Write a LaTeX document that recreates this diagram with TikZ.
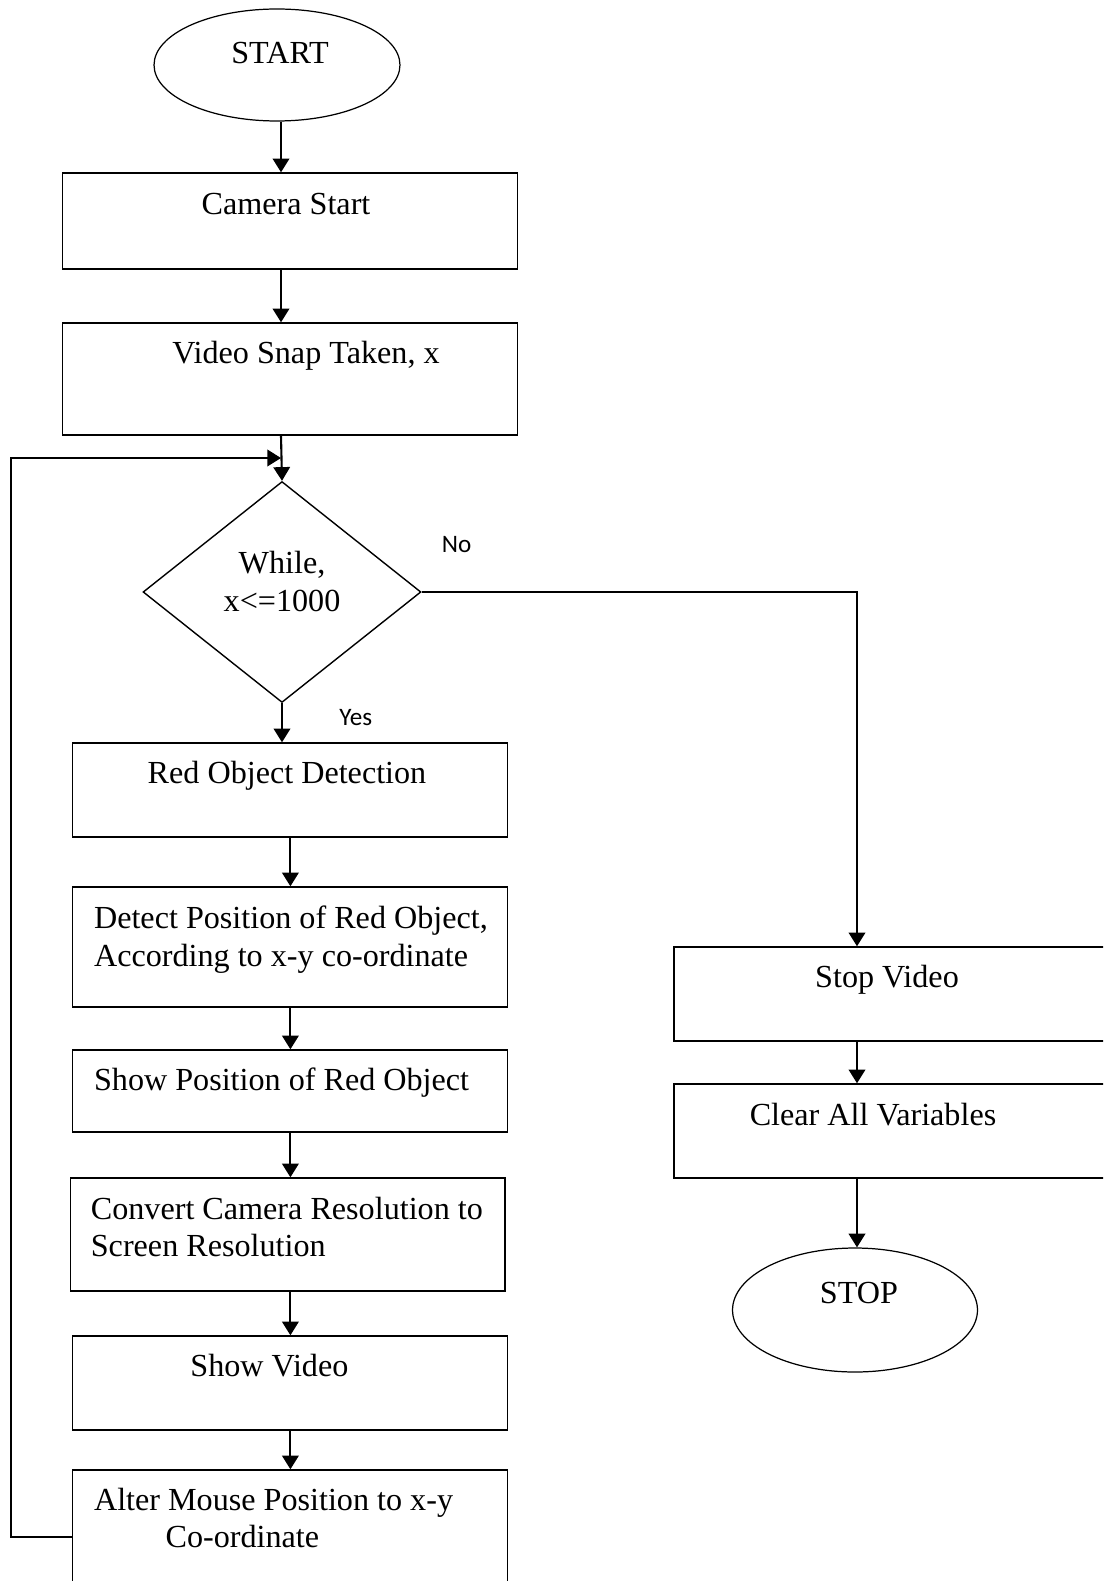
\documentclass[tikz,border=0pt]{standalone}
\usepackage{fontspec}
\setmainfont{Liberation Serif}
\newfontfamily\lblfont{Carlito}
\usetikzlibrary{shapes.geometric, arrows.meta, positioning, calc}

\begin{document}
\begin{tikzpicture}[x=0.02cm, y=-0.02cm,
  procbox/.style={draw, rectangle, line width=0.8pt, inner sep=0pt},
  termnode/.style={draw, ellipse, line width=0.7pt, inner sep=0pt},
  decnode/.style={draw, diamond, line width=0.8pt, inner sep=0pt},
  txt/.style={inner sep=0pt, font=\fontsize{18.3}{21.5}\selectfont},
  lbl/.style={inner sep=0pt, font=\lblfont\fontsize{14.3}{17}\selectfont},
  arr/.style={-{Triangle[length=7.8pt, width=9.4pt]}, line width=1.2pt}]
\useasboundingbox (0,0) rectangle (1103,1581);
\clip (0,0) rectangle (1103,1581);

% Main column
\node[termnode, minimum width=4.92cm, minimum height=2.24cm] (start) at (277,65) {};
\node[txt, anchor=base] (starttxt) at (280,64) {START};
\node[procbox, minimum width=9.11cm, minimum height=1.92cm] (cam) at (290,221) {};
\node[txt, anchor=base] (camtxt) at (286,215) {Camera Start};
\node[procbox, minimum width=9.11cm, minimum height=2.24cm] (snap) at (290,379) {};
\node[txt, anchor=base] (snaptxt) at (306,363) {Video Snap Taken, x};
\node[decnode, minimum width=5.56cm, minimum height=4.42cm] (dec) at (282,592) {};
\node[txt, anchor=north, align=center] (dectxt) at (282,551) {While,\\x<=1000};
\node[procbox, minimum width=8.69cm, minimum height=1.88cm] (red) at (290,790) {};
\node[txt, anchor=base] (redtxt) at (287,783) {Red Object Detection};
\node[procbox, minimum width=8.69cm, minimum height=2.4cm] (det) at (290,947) {};
\node[txt, anchor=north west, align=left] (dettxt) at (93.7,905.5) {Detect Position of Red Object,\\According to x-y co-ordinate};
\node[procbox, minimum width=8.69cm, minimum height=1.64cm] (show) at (290,1091) {};
\node[txt, anchor=base west] (showtxt) at (93.7,1090) {Show Position of Red Object};
\node[procbox, minimum width=8.69cm, minimum height=2.26cm] (conv) at (287.8,1234.5) {};
\node[txt, anchor=north west, align=left] (convtxt) at (90.5,1196.5) {Convert Camera Resolution to\\Screen Resolution};
\node[procbox, minimum width=8.69cm, minimum height=1.88cm] (vid) at (290,1383) {};
\node[txt, anchor=base] (vidtxt) at (269.4,1376) {Show Video};
\node[procbox, minimum width=8.69cm, minimum height=2.68cm] (alt) at (290,1537) {};
\node[txt, anchor=north west, align=left] (alttxt) at (93.7,1487.5) {Alter Mouse Position to x-y\\\hspace*{40.7pt}Co-ordinate};

% Exit branch
\node[procbox, minimum width=8.92cm, minimum height=1.88cm] (stopv) at (897,994) {};
\node[txt, anchor=base] (stopvtxt) at (887,987) {Stop Video};
\node[procbox, minimum width=8.92cm, minimum height=1.88cm] (clr) at (897,1131) {};
\node[txt, anchor=base] (clrtxt) at (873,1125) {Clear All Variables};
\node[termnode, minimum width=4.9cm, minimum height=2.48cm] (stop) at (855,1310) {};
\node[txt, anchor=base] (stoptxt) at (859,1303) {STOP};

% Branch labels
\node[lbl, anchor=base] (nolbl) at (456.7,552) {No};
\node[lbl, anchor=base] (yeslbl) at (355.7,725) {Yes};

% Arrows
\coordinate (colA) at (281,0);
\coordinate (colB) at (290.4,0);
\coordinate (colR) at (857,0);
\coordinate (loopin) at (281,458);
\draw[arr] (start.south -| colA) -- (cam.north -| colA);
\draw[arr] (cam.south -| colA) -- (snap.north -| colA);
\draw[arr] (snap.south -| colA) -- (dec.north);
\draw[arr] (dec.south) -- (red.north -| dec.south);
\draw[arr] (red.south -| colB) -- (det.north -| colB);
\draw[arr] (det.south -| colB) -- (show.north -| colB);
\draw[arr] (show.south -| colB) -- (conv.north -| colB);
\draw[arr] (conv.south -| colB) -- (vid.north -| colB);
\draw[arr] (vid.south -| colB) -- (alt.north -| colB);
\draw[arr] (dec.east) -| (stopv.north -| colR);
\draw[arr] (stopv.south -| colR) -- (clr.north -| colR);
\draw[arr] (clr.south -| colR) -- (stop.north -| colR);
% Loop back
\draw[arr] (alt.west) -- ++(-61,0) |- (loopin);
\end{tikzpicture}
\end{document}
